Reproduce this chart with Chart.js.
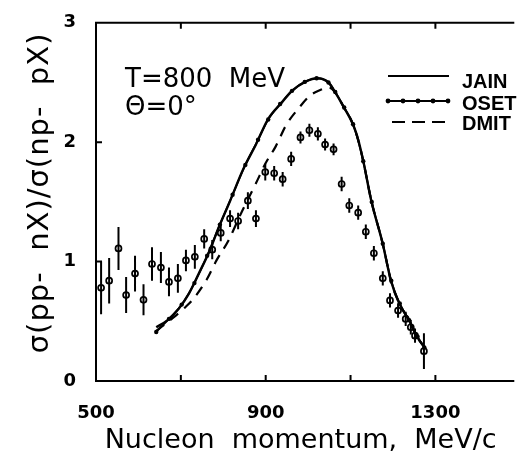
<!DOCTYPE html>
<html><head><meta charset="utf-8">
<script src="https://cdn.jsdelivr.net/npm/chart.js@4/dist/chart.umd.min.js"></script>
<style>html,body{margin:0;padding:0;background:#fff;overflow:hidden}canvas{display:block}</style>
</head><body>
<canvas id="c" width="520" height="457"></canvas>
<script>
// ---- data ----
const dataMomentum = [512, 531, 553, 571, 592, 612, 632, 653, 672, 693, 712, 733, 755, 774, 794, 816, 835, 858, 877, 899, 920, 940, 960, 982, 1003, 1023, 1040, 1060, 1079, 1097, 1118, 1136, 1155, 1176, 1193, 1212, 1230, 1242, 1252, 1273];
const dataRatio = [0.78, 0.84, 1.11, 0.72, 0.90, 0.68, 0.98, 0.95, 0.83, 0.86, 1.01, 1.04, 1.19, 1.10, 1.24, 1.36, 1.34, 1.51, 1.36, 1.75, 1.74, 1.69, 1.86, 2.04, 2.10, 2.07, 1.98, 1.94, 1.65, 1.47, 1.41, 1.25, 1.07, 0.86, 0.675, 0.59, 0.52, 0.45, 0.38, 0.25];
const dataError = [0.22, 0.19, 0.18, 0.15, 0.15, 0.13, 0.14, 0.13, 0.12, 0.12, 0.09, 0.10, 0.08, 0.08, 0.07, 0.07, 0.07, 0.07, 0.07, 0.07, 0.06, 0.06, 0.06, 0.05, 0.055, 0.055, 0.05, 0.05, 0.06, 0.06, 0.06, 0.06, 0.06, 0.06, 0.06, 0.06, 0.06, 0.06, 0.06, 0.15];

const jainMomentum = [642, 668, 695, 719, 742, 769, 788, 816, 847, 877, 905, 936, 963, 994, 1023, 1048, 1064, 1083, 1106, 1119, 1130, 1149, 1176, 1195, 1215, 1238, 1257, 1274];
const jainRatio = [0.45, 0.508, 0.606, 0.731, 0.898, 1.10, 1.275, 1.508, 1.773, 1.981, 2.19, 2.325, 2.433, 2.508, 2.536, 2.50, 2.417, 2.30, 2.148, 2.008, 1.842, 1.508, 1.148, 0.842, 0.648, 0.508, 0.369, 0.283];

const osetMomentum = [642, 672, 702, 732, 762, 792, 822, 852, 882, 906, 934, 962, 992, 1020, 1048, 1064, 1085, 1106, 1130, 1150, 1176, 1196, 1216, 1238, 1258, 1274];
const osetRatio = [0.41, 0.52, 0.64, 0.82, 1.05, 1.31, 1.56, 1.81, 2.02, 2.19, 2.32, 2.43, 2.505, 2.535, 2.50, 2.42, 2.29, 2.15, 1.84, 1.50, 1.15, 0.84, 0.65, 0.51, 0.37, 0.28];

const dmitMomentum = [642, 680, 711, 730, 761, 784, 812, 844, 877, 900, 924, 948, 978, 1005, 1026, 1049, 1064, 1083, 1106, 1119, 1130, 1149, 1176, 1195, 1215, 1238, 1257, 1274];
const dmitRatio = [0.42, 0.525, 0.62, 0.69, 0.85, 1.01, 1.175, 1.42, 1.656, 1.825, 1.967, 2.142, 2.286, 2.392, 2.433, 2.458, 2.417, 2.30, 2.148, 2.008, 1.842, 1.508, 1.148, 0.842, 0.648, 0.508, 0.369, 0.283];

const xTickValues = [500, 700, 900, 1100, 1300];
const xTickLabels = [500, 900, 1300];
const xTickMarks = [700, 900, 1100, 1300];
const yTickMarks = [1, 2];
const seriesNames = ['JAIN', 'OSET', 'DMIT'];
const annotationLines = ['T=800  MeV', 'Θ=0°'];
const xTitle = 'Nucleon  momentum,  MeV/c';
const yTitle = 'σ(pp-  nX)/σ(np-  pX)';

// ---- scale subclass to fine-tune axis title placement ----
const LinearScale = Chart.registry.getScale('linear');
const TITLE_STYLE = { x: {dx: -4.5, dy: 0, spacing: '0px'}, y: {dx: 0, dy: -9, spacing: '1px'} };
class ShiftedTitleScale extends LinearScale {
  drawTitle() {
    const s = TITLE_STYLE[this.id] || {dx: 0, dy: 0, spacing: '0px'};
    const ctx = this.ctx;
    ctx.save();
    ctx.translate(s.dx, s.dy);
    if ('letterSpacing' in ctx) ctx.letterSpacing = s.spacing;
    super.drawTitle();
    ctx.restore();
  }
}
ShiftedTitleScale.id = 'shiftedLinear';
Chart.register(ShiftedTitleScale);

const toPts = (xs, ys) => xs.map((x, i) => ({x, y: ys[i]}));

const framePlugin = {
  id: 'frame',
  afterDatasetsDraw(chart) {
    const {ctx, chartArea: {left, right, top, bottom}, scales: {x, y}} = chart;
    ctx.save();
    ctx.strokeStyle = '#000';
    ctx.lineWidth = 2;
    ctx.beginPath();
    ctx.moveTo(right, top); ctx.lineTo(left, top); ctx.lineTo(left, bottom); ctx.lineTo(right, bottom);
    ctx.stroke();
    ctx.beginPath();
    xTickMarks.forEach(v => {
      const p = x.getPixelForValue(v);
      ctx.moveTo(p, bottom); ctx.lineTo(p, bottom - 6);
      ctx.moveTo(p, top); ctx.lineTo(p, top + 6);
    });
    yTickMarks.forEach(v => {
      const p = y.getPixelForValue(v);
      ctx.moveTo(left, p); ctx.lineTo(left + 6, p);
    });
    ctx.stroke();
    // error bars
    ctx.lineWidth = 2;
    ctx.beginPath();
    dataMomentum.forEach((m, i) => {
      const px = x.getPixelForValue(m);
      ctx.moveTo(px, y.getPixelForValue(dataRatio[i] + dataError[i]));
      ctx.lineTo(px, y.getPixelForValue(dataRatio[i] - dataError[i]));
    });
    ctx.stroke();
    ctx.restore();
  },
  afterDraw(chart) {
    const ctx = chart.ctx;
    ctx.save();
    ctx.fillStyle = '#000';
    ctx.textBaseline = 'alphabetic';
    ctx.textAlign = 'left';
    ctx.font = '26px "DejaVu Sans"';
    ctx.fillText(annotationLines[0], 125, 87);
    ctx.fillText(annotationLines[1], 125, 115);
    // legend
    const ys = [76, 101, 122];
    const bases = [88, 110, 130];
    ctx.strokeStyle = '#000';
    ctx.lineWidth = 2.2;
    ctx.beginPath(); ctx.moveTo(388, ys[0]); ctx.lineTo(449, ys[0]); ctx.stroke();
    ctx.beginPath(); ctx.moveTo(388, ys[1]); ctx.lineTo(449, ys[1]); ctx.stroke();
    [388, 403, 418, 433, 448].forEach(px => { ctx.beginPath(); ctx.arc(px, ys[1], 2.4, 0, Math.PI * 2); ctx.fill(); });
    ctx.setLineDash([13, 7]);
    ctx.beginPath(); ctx.moveTo(392, ys[2]); ctx.lineTo(449, ys[2]); ctx.stroke();
    ctx.setLineDash([]);
    ctx.font = 'bold 20px "Liberation Sans"';
    seriesNames.forEach((n, i) => ctx.fillText(n, 462, bases[i]));
    ctx.restore();
  }
};

new Chart(document.getElementById('c'), {
  type: 'scatter',
  data: {
    datasets: [
      { label: 'data', data: toPts(dataMomentum, dataRatio), showLine: false, pointRadius: 3.0, pointBorderWidth: 1.7,
        pointBorderColor: '#000', pointBackgroundColor: 'rgba(0,0,0,0)', clip: false },
      { label: seriesNames[0], data: toPts(jainMomentum, jainRatio), showLine: true, borderColor: '#000', borderWidth: 2.4,
        pointRadius: 0, cubicInterpolationMode: 'monotone', fill: false },
      { label: seriesNames[1], data: toPts(osetMomentum, osetRatio), showLine: true, borderColor: '#000', borderWidth: 1.8,
        pointRadius: 2.2, pointBackgroundColor: '#000', pointBorderWidth: 0, cubicInterpolationMode: 'monotone', fill: false },
      { label: seriesNames[2], data: toPts(dmitMomentum, dmitRatio), showLine: true, borderColor: '#000', borderWidth: 2.2,
        borderDash: [10, 8], pointRadius: 0, cubicInterpolationMode: 'monotone', fill: false }
    ]
  },
  options: {
    responsive: false,
    devicePixelRatio: 1,
    animation: false,
    layout: { padding: { top: 21, right: 0, left: 0, bottom: 0 } },
    plugins: { legend: { display: false }, tooltip: { enabled: false } },
    scales: {
      x: {
        type: 'shiftedLinear', position: 'bottom', min: 500, max: 1486,
        grid: { display: false }, border: { display: false },
        afterBuildTicks: s => { s.ticks = xTickValues.map(v => ({ value: v })); },
        ticks: { autoSkip: false, maxRotation: 0, minRotation: 0, padding: 14, color: '#000',
          font: { family: 'DejaVu Sans', size: 18, weight: 'bold' },
          callback: v => xTickLabels.includes(v) ? String(v) : '' },
        title: { display: true, text: xTitle, color: '#000', padding: { top: 0, bottom: 0 },
          font: { family: 'DejaVu Sans', size: 27 } },
        afterFit: s => { s.height = 76; }
      },
      y: {
        type: 'shiftedLinear', position: 'left', min: 0, max: 3,
        grid: { display: false }, border: { display: false },
        ticks: { stepSize: 1, padding: 12, color: '#000', font: { family: 'DejaVu Sans', size: 18, weight: 'bold' } },
        title: { display: true, text: yTitle, color: '#000', padding: { top: 22.6, bottom: 0 },
          font: { family: 'DejaVu Sans', size: 29 } },
        afterFit: s => { s.width = 96; }
      }
    }
  },
  plugins: [framePlugin]
});
</script>
</body></html>
